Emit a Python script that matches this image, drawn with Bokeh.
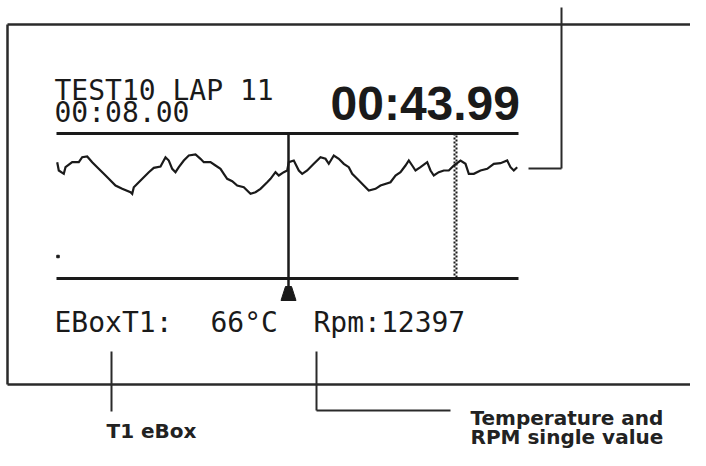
from bokeh.plotting import figure
from bokeh.embed import file_html
from bokeh.resources import INLINE
from bokeh.core.properties import value
from bokeh.models import Range1d

# ---- data (screen trace of the logger display, in display pixel units) ----
trace_x = [56.7, 58.3, 63.3, 65, 71.7, 78.3, 81.7, 86.7, 91.7, 96.7, 103.3, 108.3, 115, 121.7,
           130, 131.7, 133.3, 138.3, 143.3, 148.3, 153.3, 160, 165, 168.3, 171.7, 175, 178.3,
           183.3, 188.3, 195, 200, 203.3, 210, 215, 220, 223.3, 226.7, 231.7, 236.7, 243.3,
           250, 255, 260, 266.7, 270, 275, 278.3, 283.3, 286.7,
           288.3, 293.3, 298.3, 301.7, 306.7, 313.3, 320, 325, 328.3, 333.3, 338.3, 343.3,
           348.3, 351.7, 356.7, 363.3, 368.3, 375, 380, 390, 395, 400, 405, 408.3, 411.7,
           415, 420, 426.7, 430, 433.3, 438.3, 443.3, 448.3, 453.3, 460, 465, 468.3, 473.3,
           480, 486.7, 493.3, 500, 506.7, 510, 513.3, 516.7]
trace_y = [161.7, 170, 173.3, 166.7, 161.7, 161.7, 156.7, 156, 161.7, 166.7, 173.3, 178.3, 185,
           188.3, 191.7, 193.3, 186.7, 181.7, 176.7, 171.7, 167.3, 166, 156.7, 160, 168.3,
           171.7, 166.7, 160, 155, 154, 158.3, 161.7, 161.7, 165, 168.3, 173.3, 178.3, 180.7,
           185, 186.7, 193.3, 191.7, 188.3, 181.7, 178.3, 171.7, 175, 171.7, 170,
           161.7, 160, 170, 173.3, 170, 163.3, 156.7, 158.3, 163.3, 155, 158.3, 163.3,
           166.7, 173.3, 178.3, 185, 190, 188.3, 185, 181.7, 175, 171.7, 165, 160, 165,
           170, 166.7, 161.7, 170, 175, 171.7, 170, 170, 165, 160, 163.3, 173.3, 173.3,
           170, 168.3, 163.3, 162.7, 160, 166.7, 170, 166.7]

header_left = ["TEST10 LAP 11", "00:08.00"]
lap_time = "00:43.99"
status_items = ["EBoxT1:", "66°C", "Rpm:12397"]
callout_t1 = ["T1 eBox"]
callout_rpm = ["Temperature and", "RPM single value"]

# ---- layout (page pixels) ----
W, H = 690, 450
INK = "#1a1a1a"

p = figure(width=W, height=H, output_backend="svg", toolbar_location=None,
           x_range=Range1d(0, W), y_range=Range1d(H, 0),
           min_border=0, outline_line_color=None)
p.axis.visible = False
p.grid.visible = False
p.background_fill_color = "white"
p.border_fill_color = "white"

# outer display frame (open on the right)
p.segment(x0=[7, 7, 7], y0=[24, 24, 384], x1=[720, 7, 720], y1=[24, 384, 384],
          line_color="#2a2a2a", line_width=2.5)

# graph area rules
p.segment(x0=[56, 56], y0=[133, 278], x1=[518, 518], y1=[133, 278],
          line_color=INK, line_width=3)

# trace
p.line(trace_x, trace_y, line_color=INK, line_width=2.2, line_join="miter")

# solid cursor + marker
p.segment(x0=[288], y0=[133], x1=[288], y1=[290], line_color=INK, line_width=2.5)
p.patch([285, 291, 295.5, 280.5], [286, 286, 300, 300], color=INK)

# dotted (checkered) cursor
p.segment(x0=[454], y0=[133], x1=[454], y1=[278], line_color=INK, line_width=2, line_dash="2 2")
p.segment(x0=[456], y0=[133], x1=[456], y1=[278], line_color=INK, line_width=2,
          line_dash="2 2", line_dash_offset=2)

# small dot
p.rect(x=[57.5], y=[256], width=2.5, height=2.5, color=INK)

mono = value("DejaVu Sans Mono")
p.text(x=[54, 54], y=[90, 112], text=header_left, text_font=mono, text_font_size="28px",
       text_color=INK, text_baseline="alphabetic")
p.text(x=[330], y=[103], text=[lap_time], text_font=value("Liberation Sans"),
       text_font_style="bold", text_font_size="48px", text_color=INK, text_baseline="alphabetic")
p.text(x=[54, 210, 313], y=[322, 322, 322], text=status_items, text_font=mono,
       text_font_size="28px", text_color=INK, text_baseline="alphabetic")

# callouts
p.segment(x0=[111, 316, 316, 561, 528], y0=[351, 351, 410, 7, 168],
          x1=[111, 316, 450, 561, 561], y1=[411, 410, 410, 168, 168],
          line_color="#2a2a2a", line_width=2)

bold = value("DejaVu Sans")
p.text(x=[106], y=[430], text=callout_t1, text_font=bold, text_font_style="bold",
       text_font_size="20px", text_color="#222222", text_baseline="alphabetic")
p.text(x=[470, 470], y=[417, 436], text=callout_rpm, text_font=bold, text_font_style="bold",
       text_font_size="20px", text_color="#222222", text_baseline="alphabetic")

open("out.html", "w").write(file_html(p, INLINE))
